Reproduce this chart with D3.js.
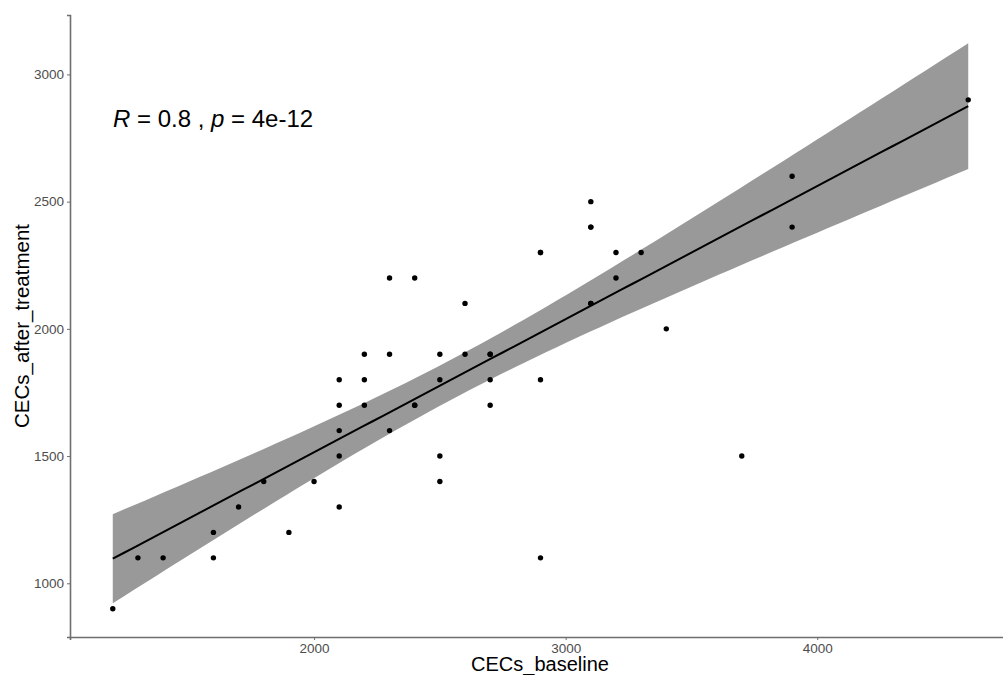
<!DOCTYPE html>
<html>
<head>
<meta charset="utf-8">
<script src="https://cdn.jsdelivr.net/npm/d3@7"></script>
<style>
  html, body { margin: 0; padding: 0; background: #fff; }
  svg { display: block; font-family: "Liberation Sans", Arial, sans-serif; }
</style>
</head>
<body>
<svg id="chart" width="1003" height="675"></svg>
<script>
// CECs counts at baseline and after treatment, one entry per patient
// (several patients share identical value pairs, so some dots coincide)
const baseline = [
  1200, 1300, 1400, 1600, 1600, 1700, 1800, 1900, 2000,
  2100, 2100, 2100, 2100, 2100,
  2200, 2200, 2200,
  2300, 2300, 2300,
  2400, 2400, 2400,
  2500, 2500, 2500, 2500,
  2600, 2600,
  2700, 2700, 2700, 2700,
  2900, 2900, 2900, 2900,
  3100, 3100, 3100, 3100, 3100,
  3200, 3200, 3300, 3400, 3700,
  3900, 3900, 4600
];
const afterTreatment = [
  900, 1100, 1100, 1100, 1200, 1300, 1400, 1200, 1400,
  1300, 1500, 1600, 1700, 1800,
  1700, 1800, 1900,
  1900, 1600, 2200,
  2200, 1700, 1700,
  1900, 1800, 1500, 1400,
  2100, 1900,
  1900, 1900, 1800, 1700,
  2300, 2300, 1800, 1100,
  2500, 2400, 2400, 2100, 2100,
  2300, 2200, 2300, 2000, 1500,
  2600, 2400, 2900
];
const xTicks = [2000, 3000, 4000];
const yTicks = [1000, 1500, 2000, 2500, 3000];
const corLabel = { R: "0.8", p: "4e-12" };

const points = baseline.map((x, i) => ({ x, y: afterTreatment[i] }));

// Ordinary least squares fit with a 95% confidence band
const n = points.length;
const mx = d3.mean(points, d => d.x);
const my = d3.mean(points, d => d.y);
const sxx = d3.sum(points, d => (d.x - mx) ** 2);
const sxy = d3.sum(points, d => (d.x - mx) * (d.y - my));
const slope = sxy / sxx;
const intercept = my - slope * mx;
const rss = d3.sum(points, d => (d.y - (intercept + slope * d.x)) ** 2);
const sigma = Math.sqrt(rss / (n - 2));
const tCrit = 2.0106; // t(0.975, df = 48)

const [xMin, xMax] = d3.extent(points, d => d.x);
const fitX = d3.range(80).map(i => xMin + (xMax - xMin) * i / 79);
const fit = fitX.map(x => {
  const yhat = intercept + slope * x;
  const se = sigma * Math.sqrt(1 / n + (x - mx) ** 2 / sxx);
  return { x, y: yhat, lo: yhat - tCrit * se, hi: yhat + tCrit * se };
});

// Scale limits padded by 5% around data and band
const xPad = (xMax - xMin) * 0.05;
const yLow = Math.min(d3.min(points, d => d.y), d3.min(fit, d => d.lo));
const yHigh = Math.max(d3.max(points, d => d.y), d3.max(fit, d => d.hi));
const yPad = (yHigh - yLow) * 0.05;

const svg = d3.select("#chart");
const panel = { left: 70, right: 1011, top: 15, bottom: 637 };

const x = d3.scaleLinear().domain([xMin - xPad, xMax + xPad]).range([panel.left, panel.right]);
const y = d3.scaleLinear().domain([yLow - yPad, yHigh + yPad]).range([panel.bottom, panel.top]);

// confidence band
svg.append("path")
  .datum(fit)
  .attr("fill", "#999999")
  .attr("d", d3.area().x(d => x(d.x)).y0(d => y(d.lo)).y1(d => y(d.hi)));

// fitted line
svg.append("path")
  .datum(fit)
  .attr("fill", "none")
  .attr("stroke", "#000")
  .attr("stroke-width", 2)
  .attr("d", d3.line().x(d => x(d.x)).y(d => y(d.y)));

// points
svg.append("g")
  .selectAll("circle")
  .data(points)
  .join("circle")
  .attr("cx", d => x(d.x))
  .attr("cy", d => y(d.y))
  .attr("r", 2.7)
  .attr("fill", "#000");

// axes
const axisColor = "#6e6e6e";
const gx = svg.append("g")
  .attr("transform", `translate(0,${panel.bottom})`)
  .call(d3.axisBottom(x).tickValues(xTicks).tickSize(3).tickPadding(3).tickFormat(d3.format("d")));
const gy = svg.append("g")
  .attr("transform", `translate(${panel.left},0)`)
  .call(d3.axisLeft(y).tickValues(yTicks).tickSize(3).tickPadding(3).tickFormat(d3.format("d")));

[gx, gy].forEach(g => {
  g.select(".domain").attr("stroke", axisColor).attr("stroke-width", 1.6);
  g.selectAll(".tick line").attr("stroke", axisColor).attr("stroke-width", 1);
  g.selectAll(".tick text")
    .attr("fill", "#4d4d4d")
    .style("font-size", "13.5px")
    .style("font-family", "Liberation Sans, Arial, sans-serif");
});

// axis titles
svg.append("text")
  .attr("x", 540)
  .attr("y", 671)
  .attr("text-anchor", "middle")
  .style("font-size", "20px")
  .attr("fill", "#000")
  .text("CECs_baseline");

svg.append("text")
  .attr("transform", `translate(29,${(panel.top + panel.bottom) / 2}) rotate(-90)`)
  .attr("text-anchor", "middle")
  .style("font-size", "20.5px")
  .attr("fill", "#000")
  .text("CECs_after_treatment");

// correlation annotation
const ann = svg.append("text")
  .attr("x", 113)
  .attr("y", 127)
  .style("font-size", "24px")
  .attr("fill", "#000");
ann.append("tspan").style("font-style", "italic").text("R");
ann.append("tspan").text(` = ${corLabel.R} , `);
ann.append("tspan").style("font-style", "italic").text("p");
ann.append("tspan").text(` = ${corLabel.p}`);
</script>
</body>
</html>
